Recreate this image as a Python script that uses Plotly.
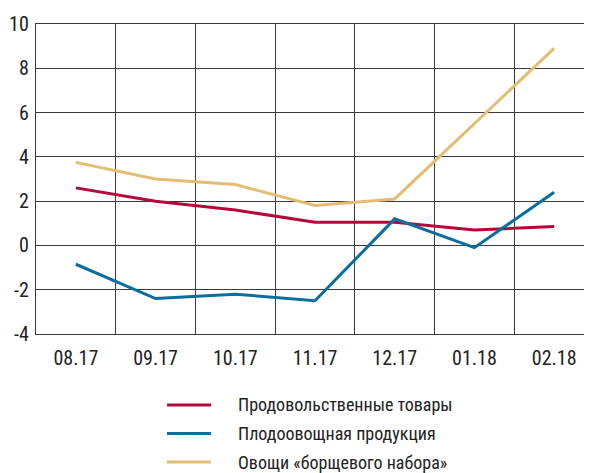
import plotly.graph_objects as go

months = ["08.17", "09.17", "10.17", "11.17", "12.17", "01.18", "02.18"]
names = ["Продовольственные товары", "Плодоовощная продукция", "Овощи «борщевого набора»"]
food = [2.6, 2.0, 1.6, 1.05, 1.05, 0.7, 0.85]
fruitveg = [-0.85, -2.4, -2.2, -2.5, 1.2, -0.1, 2.4]
borsch = [3.75, 3.0, 2.75, 1.8, 2.1, 5.5, 8.9]
series = [food, fruitveg, borsch]
colors = ["#b5083a", "#0b6ea0", "#e3bd72"]
y_ticks = [-4, -2, 0, 2, 4, 6, 8, 10]
y_ticktext = ["-4", "-2", "0", "2", "4", "6", "8", "10"]

FONT = "Roboto Condensed, DejaVu Sans Condensed, sans-serif"

fig = go.Figure()
for name, vals, c in zip(names, series, colors):
    fig.add_trace(go.Scatter(x=months, y=vals, mode="lines", name=name,
                             line=dict(color=c, width=3), showlegend=False))

# manual legend
rows = [-0.229, -0.321, -0.413]
for name, c, ry in zip(names, colors, rows):
    fig.add_shape(type="line", xref="paper", yref="paper", x0=0.2348, x1=0.3136,
                  y0=ry, y1=ry, line=dict(color=c, width=3))
    fig.add_annotation(xref="paper", yref="paper", x=0.358, y=ry, text=name,
                       showarrow=False, xanchor="left", yanchor="middle",
                       font=dict(family=FONT, size=18, color="#222"))

fig.update_layout(
    width=592, height=473,
    margin=dict(l=28, r=6, t=16, b=147),
    plot_bgcolor="white", paper_bgcolor="white",
    font=dict(family=FONT, size=20, color="#222"),
    xaxis=dict(type="category", range=[-0.5, 6.5], tickson="boundaries", automargin=False,
               showgrid=True, gridcolor="#3a3a3a", gridwidth=1.3,
               showline=True, linecolor="#3a3a3a", linewidth=1.3, mirror=True,
               ticks="", ticklen=0, tickfont=dict(size=20), ticklabelstandoff=6),
    yaxis=dict(range=[-4, 10], tickvals=y_ticks, ticktext=y_ticktext, automargin=False,
               showgrid=True, gridcolor="#3a3a3a", gridwidth=1.3,
               showline=True, linecolor="#3a3a3a", linewidth=1.3,
               zeroline=True, zerolinecolor="#3a3a3a", zerolinewidth=1.3,
               ticks="", tickfont=dict(size=20), ticklabelstandoff=2),
)

fig.write_html("out.html")
